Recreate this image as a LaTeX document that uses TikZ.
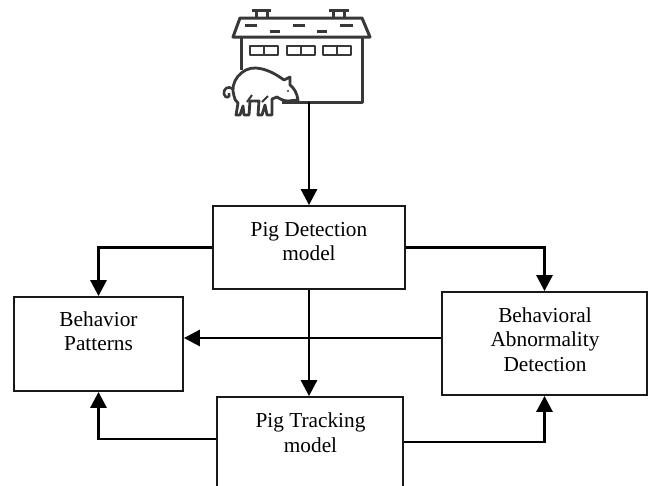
\documentclass[tikz,border=0pt]{standalone}
\usepackage{fontspec}
\setmainfont{Liberation Serif}
\usetikzlibrary{arrows.meta,calc}

\tikzset{
  box/.style={draw=black!90, line width=1.8pt, inner sep=0pt, fill=none},
  % anchor=base sits on the last line of a multi-line label
  lbl/.style={anchor=base, align=center, inner sep=0pt,
    font=\fontsize{21.3}{24.5}\selectfont},
  arr/.style={line width=2.8pt, -{Triangle[length=16pt,width=16pt]}},
  icon/.style={draw=black!78, line width=3pt, line join=round, line cap=butt},
}

\begin{document}
\begin{tikzpicture}[x=1pt, y=-1pt]
\useasboundingbox (0,0) rectangle (648,485);
\clip (0,0) rectangle (648,485);

% ---- barn with pig ----
% chimneys
\draw[icon] (252,10) -- (271,10) (256,10) -- (256,18) (267,10) -- (267,18);
\draw[icon] (329,10) -- (349,10) (333,10) -- (333,18) (344,10) -- (344,18);
% roof
\draw[icon] (240,18) -- (362,18) -- (370,37) -- (233,37) -- cycle;
\draw[icon] (245,25) -- (257,25) (293,25) -- (305,25) (340,25) -- (353,25);
\draw[icon] (270,31.5) -- (280,31.5) (317,31.5) -- (327,31.5);
% walls and ground line
\draw[icon] (241,37) -- (241,70);
\draw[icon] (362,37) -- (362,102) -- (282,102);
% windows
\foreach \wx in {250,287,323}{
  \draw[icon, line width=2.6pt] (\wx,46) rectangle ++(28,9);
  \draw[icon, line width=2.6pt] (\wx+14,46) -- (\wx+14,55);
}
% pig
\draw[icon, line width=2.8pt, fill=white]
  (234,96) .. controls (229,82) and (242,67) .. (256,68)
  .. controls (268,69) and (277,75) .. (284,80)
  -- (290,77) -- (290,85)
  .. controls (294,88) and (297,93) .. (298,100)
  -- (288,101) .. controls (284,101) and (280,99) .. (277,97)
  -- (272,99) -- (272,115) -- (267,115) -- (265,105) -- (262,115)
  -- (258,115) -- (259,101) -- (250,101) -- (249,115) -- (244,115)
  -- (243,106) -- (240,115) -- (236,115) -- (238,103)
  .. controls (236,101) and (234,99) .. (234,96);
\draw[icon, line width=2.6pt]
  (233,89) .. controls (228,85) and (223,89) .. (224,94)
  .. controls (225,99) and (231,98) .. (229,93);
\draw[icon, line width=2pt] (262,102) -- (268,96) (247,102) -- (252,95);
\fill[black!78] (288,91) circle (1.2pt);
\draw[icon] (298,101) -- (282,101);
\coordinate (barn) at (309,102);

% ---- boxes ----
\node[box, minimum width=192pt, minimum height=83pt] (det) at (309,247.5) {};
\node[box, minimum width=169pt, minimum height=94pt] (bp) at (98.5,344) {};
\node[box, minimum width=205pt, minimum height=103pt] (bad) at (544.5,343.5) {};
\node[box, minimum width=186pt, minimum height=123pt] (track) at (310,458.5) {};

% ---- texts ----
\node[lbl] (detT) at (309,260.5) {Pig Detection\\model};
\node[lbl] (bpT) at (98.5,350.5) {Behavior\\Patterns};
\node[lbl] (badT) at (545,371) {Behavioral\\Abnormality\\Detection};
\node[lbl] (trackT) at (310.5,452) {Pig Tracking\\model};

% ---- connectors ----
\coordinate (hmid) at (0,338);
\coordinate (tl) at (0,439);
\coordinate (tr) at (0,442);
\draw[arr] (barn) -- (det.north);
\draw[arr] (det.west) -| (bp.north);
\draw[arr] (det.east) -| (bad.north);
\draw[arr] (det.south) -- (det.south |- track.north);
\draw[arr] (bad.west |- hmid) -- (bp.east |- hmid);
\draw[arr] (track.west |- tl) -| (bp.south);
\draw[arr] (track.east |- tr) -| (bad.south);
\end{tikzpicture}
\end{document}
